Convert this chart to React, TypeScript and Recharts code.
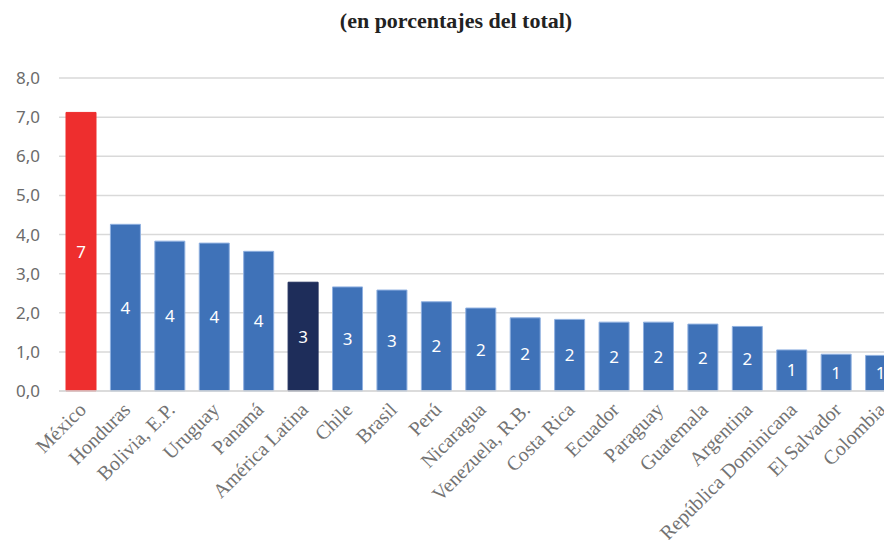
import React from "react";
import { BarChart, Bar, XAxis, YAxis, CartesianGrid, Cell, LabelList } from "recharts";

const categories = [
  "México", "Honduras", "Bolivia, E.P.", "Uruguay", "Panamá", "América Latina", "Chile", "Brasil",
  "Perú", "Nicaragua", "Venezuela, R.B.", "Costa Rica", "Ecuador", "Paraguay", "Guatemala",
  "Argentina", "República Dominicana", "El Salvador", "Colombia",
];
const values = [7.12, 4.26, 3.83, 3.78, 3.57, 2.78, 2.66, 2.58, 2.28, 2.12, 1.87, 1.83, 1.76, 1.76, 1.71, 1.65, 1.05, 0.94, 0.91];
const barColors = ["#EE2E2E", "#3F72B8", "#3F72B8", "#3F72B8", "#3F72B8", "#1E2D5A", "#3F72B8", "#3F72B8", "#3F72B8", "#3F72B8", "#3F72B8", "#3F72B8", "#3F72B8", "#3F72B8", "#3F72B8", "#3F72B8", "#3F72B8", "#3F72B8", "#3F72B8"];
const yTicks = [0, 1, 2, 3, 4, 5, 6, 7, 8];
const title = "(en porcentajes del total)";

const data = categories.map((c, i) => ({ name: c, value: values[i], color: barColors[i] }));

const XTick = (props: any) => {
  const { x, y, payload } = props;
  return (
    <text
      x={x + 6}
      y={y + 12}
      textAnchor="end"
      transform={`rotate(-45, ${x + 6}, ${y + 12})`}
      fill="#737373"
      fontFamily="'Liberation Serif', serif"
      fontSize={20}
    >
      {payload.value}
    </text>
  );
};

const YTick = (props: any) => {
  const { y, payload } = props;
  return (
    <text x={40} y={y + 6} textAnchor="end" fill="#6b6b6b" fontFamily="'Noto Sans', sans-serif" fontSize={17}>
      {payload.value.toFixed(1).replace(".", ",")}
    </text>
  );
};

export default function App() {
  return (
    <div style={{ margin: -8, width: 892, height: 548, overflow: "hidden", position: "relative", background: "#fff" }}>
      <div
        style={{
          position: "absolute",
          top: 8,
          left: 0,
          width: 892,
          textAlign: "center",
          fontFamily: "'Liberation Serif', serif",
          fontWeight: "bold",
          fontSize: 22,
          color: "#222",
          paddingLeft: 20,
          boxSizing: "border-box",
        }}
      >
        {title}
      </div>
      <BarChart
        width={905}
        height={548}
        data={data}
        margin={{ top: 78, right: 2, left: 0, bottom: 0 }}
        style={{ position: "absolute", top: 0, left: 0 }}
      >
        <CartesianGrid vertical={false} stroke="#d9d9d9" strokeWidth={1.5} />
        <XAxis
          dataKey="name"
          interval={0}
          height={157}
          tickLine={false}
          axisLine={{ stroke: "#d9d9d9", strokeWidth: 1.5 }}
          tick={<XTick />}
        />
        <YAxis
          width={59}
          domain={[0, 8]}
          ticks={yTicks}
          tickLine={false}
          axisLine={false}
          tick={<YTick />}
        />
        <Bar dataKey="value" barSize={30} isAnimationActive={false} stroke="#8fb0e0" strokeWidth={1}>
          {data.map((d, i) => (
            <Cell key={i} fill={d.color} stroke={i === 0 ? d.color : i === 5 ? d.color : "#8fb0e0"} />
          ))}
          <LabelList
            dataKey="value"
            position="center"
            formatter={(v: any) => String(Math.round(v))}
            fill="#ffffff"
            fontFamily="'Noto Sans', sans-serif"
            fontSize={17}
          />
        </Bar>
      </BarChart>
    </div>
  );
}
